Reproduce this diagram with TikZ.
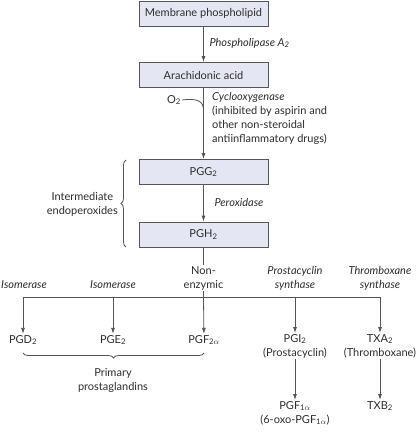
\documentclass[tikz,border=0pt]{standalone}
\usepackage{fontspec}
\setmainfont{Lato}
\usetikzlibrary{arrows.meta,decorations.pathreplacing}
\definecolor{boxfill}{HTML}{E4E6F4}
\definecolor{lncol}{HTML}{555555}
\definecolor{txtcol}{HTML}{2E2E2E}
\newcommand{\salpha}[1]{\textsubscript{#1$\alpha$}}
\tikzset{
  every node/.style={font=\fontsize{11}{14}\selectfont, text=txtcol},
  pbox/.style={draw=lncol, line width=0.8pt, fill=boxfill, minimum width=129pt, minimum height=25pt, inner sep=0pt},
  conn/.style={draw=lncol, line width=0.8pt},
  arr/.style={conn, -{Latex[length=6pt,width=4pt]}},
  enz/.style={font=\itshape\fontsize{11}{14}\selectfont, align=center},
  lbl/.style={align=center, inner sep=1pt},
  brc/.style={conn, decorate, decoration={brace, amplitude=5pt}}
}
\begin{document}
\begin{tikzpicture}[x=1pt,y=-1pt]
\path[use as bounding box, fill=white] (0,0) rectangle (420,432);
% main boxes
\node[pbox] (mp) at (203.5,13.5) {Membrane phospholipid};
\node[pbox] (aa) at (203.5,75) {Arachidonic acid};
\node[pbox] (pgg) at (203.5,172) {PGG\textsubscript{2}};
\node[pbox] (pgh) at (203.5,234.5) {PGH\textsubscript{2}};
\draw[arr] (mp) -- (aa);
\draw[arr] (aa) -- (pgg);
\draw[arr] (pgg) -- (pgh);
\node[enz, anchor=west] (pla) at (206,43) {Phospholipase A\textsubscript{2}};
\node[enz, anchor=west] (pox) at (211,202) {Peroxidase};
\node[anchor=north west, align=left, inner sep=0pt] (cox) at (212,92)
  {\textit{Cyclooxygenase}\\(inhibited by aspirin and\\other non-steroidal\\antiinflammatory drugs)};
\node[inner sep=1pt] (o2) at (174,100) {O\textsubscript{2}};
\coordinate (o2j) at (203.5,110);
\draw[conn] (o2.east) .. controls (197,98) and (203.5,101) .. (o2j);
% intermediate brace
\coordinate (bb) at (126,247);
\coordinate (bt) at (126,160);
\draw[brc] (bb) -- (bt);
\node[lbl, anchor=east] (ie) at (119,204) {Intermediate\\endoperoxides};
% split
\node[lbl] (ne) at (203.5,278) {Non-\\enzymic};
\draw[conn] (pgh) -- (ne);
\coordinate (h1) at (23,297);
\coordinate (h2) at (113,297);
\coordinate (h3) at (203.5,297);
\coordinate (h4) at (295,297);
\coordinate (h5) at (380,297);
\draw[conn] (ne) -- (h3);
\draw[conn] (h1) -- (h5);
\node[enz] (iso1) at (24,285) {Isomerase};
\node[enz] (iso2) at (113,285) {Isomerase};
\node[enz] (pcs) at (295,278) {Prostacyclin\\synthase};
\node[enz] (txs) at (380,278) {Thromboxane\\synthase};
% products
\node[lbl] (pgd) at (23,340) {PGD\textsubscript{2}};
\node[lbl] (pge) at (113,340) {PGE\textsubscript{2}};
\node[lbl] (pgf) at (204,340) {PGF\salpha{2}};
\node[lbl, anchor=north] (pgi) at (295,333) {PGI\textsubscript{2}\\(Prostacyclin)};
\node[lbl, anchor=north] (txa) at (380,333) {TXA\textsubscript{2}\\(Thromboxane)};
\draw[arr] (h1) -- (pgd);
\draw[arr] (h2) -- (pge);
\draw[arr] (h3) -- (pgf);
\draw[arr] (h4) -- (pgi);
\draw[arr] (h5) -- (txa);
\node[lbl, anchor=north] (pgf1) at (295,400) {PGF\salpha{1}\\(6-oxo-PGF\salpha{1})};
\node[lbl, anchor=north] (txb) at (380,400) {TXB\textsubscript{2}};
\draw[arr] (pgi) -- (pgf1);
\draw[arr] (txa) -- (txb);
% primary brace
\coordinate (pb1) at (204,353);
\coordinate (pb2) at (23,353);
\draw[brc] (pb1) -- (pb2);
\node[lbl] (pp) at (113,380) {Primary\\prostaglandins};
\end{tikzpicture}
\end{document}
